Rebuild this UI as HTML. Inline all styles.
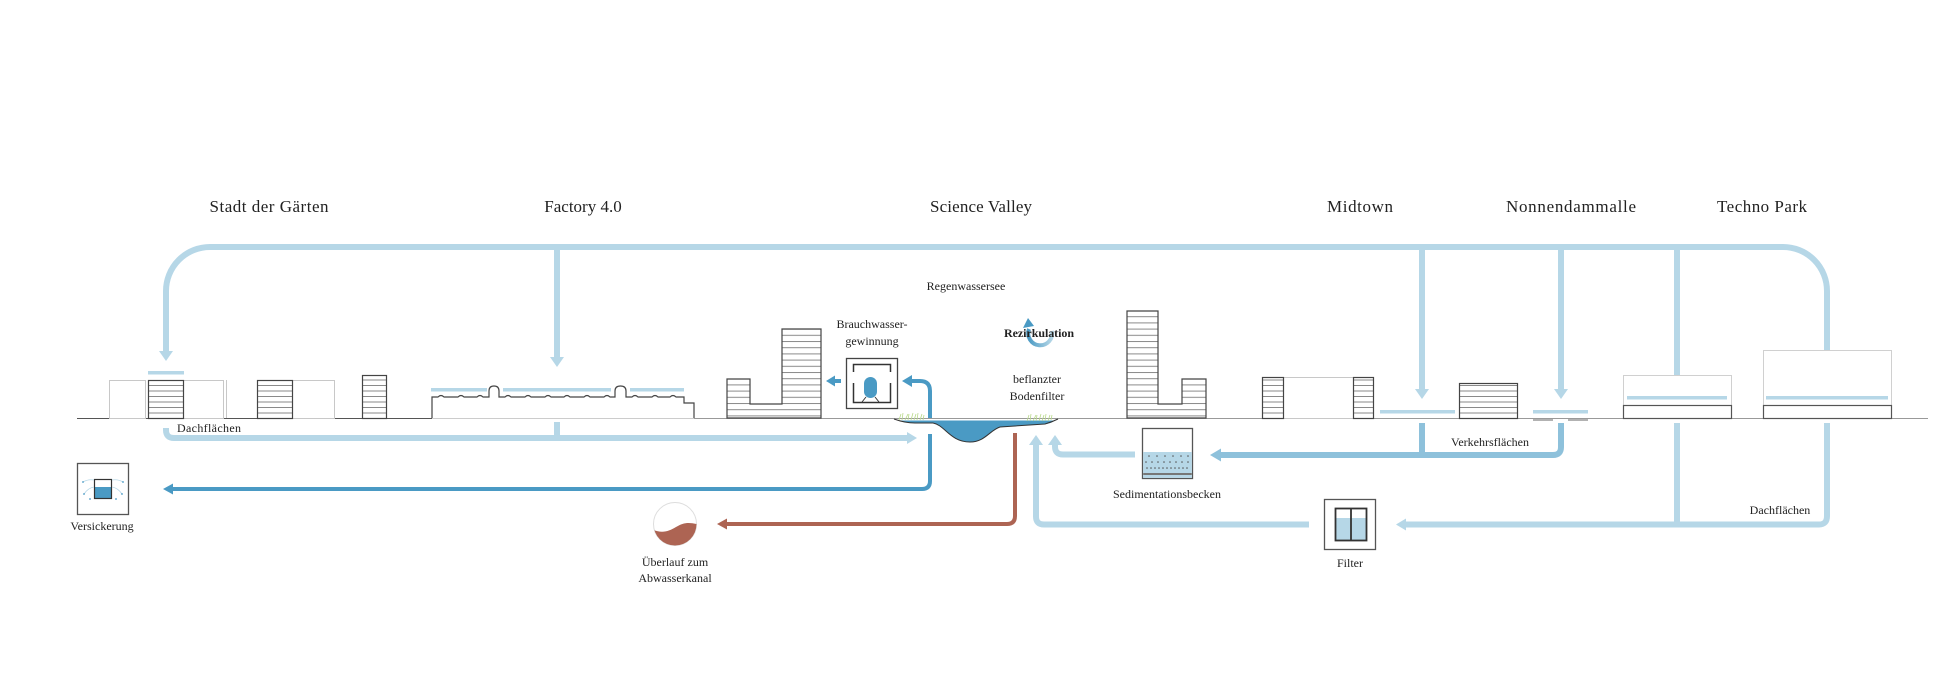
<!DOCTYPE html>
<html><head><meta charset="utf-8"><style>
html,body{margin:0;padding:0;background:#fff;}
svg{display:block;}
text{font-family:"Liberation Serif",serif;fill:#222;}
.t{font-size:17px;}
.l{font-size:12px;}
</style></head><body>
<svg width="1958" height="676" viewBox="0 0 1958 676" xmlns="http://www.w3.org/2000/svg">
<defs>
<pattern id="h55" width="10" height="5.5" patternUnits="userSpaceOnUse"><rect width="10" height="5.5" fill="#fff"/><line x1="0" y1="0.5" x2="10" y2="0.5" stroke="#8a8a8a" stroke-width="1"/></pattern>
<pattern id="h62" width="10" height="6.2" patternUnits="userSpaceOnUse"><rect width="10" height="6.2" fill="#fff"/><line x1="0" y1="0.5" x2="10" y2="0.5" stroke="#8a8a8a" stroke-width="1"/></pattern>
<linearGradient id="rz" x1="0" y1="0" x2="1" y2="0"><stop offset="0" stop-color="#4a9ac4"/><stop offset="1" stop-color="#b6d7e7"/></linearGradient>
<clipPath id="cc"><circle cx="675" cy="524" r="21.5"/></clipPath>
</defs>

<!-- Titles -->
<text class="t" x="269" y="212" text-anchor="middle" textLength="119">Stadt der Gärten</text>
<text class="t" x="583" y="212" text-anchor="middle">Factory 4.0</text>
<text class="t" x="981" y="212" text-anchor="middle" textLength="102">Science Valley</text>
<text class="t" x="1360" y="212" text-anchor="middle" textLength="66">Midtown</text>
<text class="t" x="1571" y="212" text-anchor="middle" textLength="130">Nonnendammalle</text>
<text class="t" x="1762" y="212" text-anchor="middle" textLength="90">Techno Park</text>

<!-- Top loop (light blue) -->
<g fill="none" stroke="#b6d7e7" stroke-width="6">
<path d="M166 352 V291 A44 44 0 0 1 210 247 H1783 A44 44 0 0 1 1827 291 V377"/>
<path d="M557 247 V358"/>
<path d="M1422 247 V390"/>
<path d="M1561 247 V390"/>
<path d="M1677 247 V377"/>
</g>
<g fill="#b6d7e7">
<polygon points="159,351 173,351 166,361"/>
<polygon points="550,357 564,357 557,367"/>
<polygon points="1415,389 1429,389 1422,399"/>
<polygon points="1554,389 1568,389 1561,399"/>
<polygon points="1670,376 1684,376 1677,386"/>
<polygon points="1820,376 1834,376 1827,386"/>
</g>

<!-- Ground line -->
<line x1="77" y1="418.5" x2="1928" y2="418.5" stroke="#999" stroke-width="1"/>
<line x1="77" y1="418.5" x2="432" y2="418.5" stroke="#555" stroke-width="1"/>
<line x1="432" y1="418.5" x2="694" y2="418.5" stroke="#ccc" stroke-width="1"/>

<!-- Stadt der Gärten -->
<g stroke="#c8c8c8" fill="#fff" stroke-width="1">
<rect x="109.5" y="380.5" width="36" height="38"/>
<rect x="183.5" y="380.5" width="40" height="38"/>
<line x1="226.5" y1="380" x2="226.5" y2="418"/>
<rect x="292.5" y="380.5" width="42" height="38"/>
</g>
<g stroke="#444" stroke-width="1.2">
<rect x="148.5" y="380.5" width="35" height="38" fill="url(#h55)"/>
<rect x="257.5" y="380.5" width="35" height="38" fill="url(#h55)"/>
<rect x="362.5" y="375.5" width="24" height="43" fill="url(#h55)"/>
</g>
<rect x="148" y="371" width="36" height="3.5" fill="#b6d7e7"/>

<!-- Factory 4.0 -->
<path d="M432 418 V397 H438 q3 -3 6 0 H458 q3 -3 6 0 H477 q3 -3 6 0 H489 V391 Q489 386 494 386 Q499 386 499 391 V397 H505 q3 -3 6 0 H525 q3 -3 6 0 H545 q3 -3 6 0 H564 q3 -3 6 0 H584 q3 -3 6 0 H604 q3 -3 6 0 H615 V391 Q615 386 620.5 386 Q626 386 626 391 V397 H632 q3 -3 6 0 H652 q3 -3 6 0 H670 q3 -3 6 0 H684 V403 H694 V418" fill="#fff" stroke="#444" stroke-width="1.2"/>
<g fill="#b6d7e7">
<rect x="431" y="388" width="56" height="3.5"/>
<rect x="503" y="388" width="108" height="3.5"/>
<rect x="630" y="388" width="54" height="3.5"/>
</g>

<!-- Science Valley buildings -->
<path d="M727 418 V379 H750 V404 H782 V329 H821 V418 Z" fill="url(#h62)" stroke="#444" stroke-width="1.2"/>
<path d="M1127 418 V311 H1158 V404 H1182 V379 H1206 V418 Z" fill="url(#h62)" stroke="#444" stroke-width="1.2"/>

<!-- Midtown buildings -->
<rect x="1283.5" y="377.5" width="70" height="41" fill="#fff" stroke="#c8c8c8"/>
<g stroke="#444" stroke-width="1.2">
<rect x="1262.5" y="377.5" width="21" height="41" fill="url(#h55)"/>
<rect x="1353.5" y="377.5" width="20" height="41" fill="url(#h55)"/>
<rect x="1459.5" y="383.5" width="58" height="35" fill="url(#h55)"/>
</g>
<g fill="#b6d7e7">
<rect x="1380" y="410" width="75" height="3.5"/>
<rect x="1533" y="410" width="55" height="3.5"/>
</g>
<g stroke="#666" stroke-width="1">
<line x1="1533" y1="420" x2="1553" y2="420"/>
<line x1="1568" y1="420" x2="1588" y2="420"/>
</g>

<!-- Techno Park buildings -->
<g fill="#fff" stroke="#d0d0d0" stroke-width="1">
<rect x="1623.5" y="375.5" width="108" height="30"/>
<rect x="1763.5" y="350.5" width="128" height="55"/>
</g>
<g fill="#fff" stroke="#555" stroke-width="1.2">
<rect x="1623.5" y="405.5" width="108" height="13"/>
<rect x="1763.5" y="405.5" width="128" height="13"/>
</g>
<g fill="#b6d7e7">
<rect x="1627" y="396" width="100" height="3.5"/>
<rect x="1766" y="396" width="122" height="3.5"/>
</g>

<!-- Lake -->
<path d="M900 420.5 L1055 420.5 Q1050 424 1045 424 L1000 427 C990 430 985 442 970 442 C950 442 945 425 933 423 L915 423 Q905 423 900 420.5 Z" fill="#4a9ac4"/>
<path d="M894 419 Q905 423 915 423 L933 423 C945 425 950 442 970 442 C985 442 990 430 1000 427 L1045 424 Q1052 422 1058 419" fill="none" stroke="#333" stroke-width="1"/>
<g stroke="#b8d98a" stroke-width="0.8">
<path d="M899 420 l2 -6 M902 420 l1 -7 M905 420 l3 -6 M908 420 l1 -6 M911 420 l2 -7 M914 420 l2 -6 M917 420 l1 -7 M920 420 l2 -6 M923 420 l1 -5"/>
<path d="M1027 421 l2 -6 M1030 421 l1 -7 M1033 421 l3 -6 M1036 421 l1 -6 M1039 421 l2 -7 M1042 421 l2 -6 M1045 421 l1 -7 M1048 421 l2 -6 M1051 420 l1 -5"/>
</g>

<!-- Labels center -->
<text class="l" x="966" y="290" text-anchor="middle">Regenwassersee</text>
<text class="l" x="872" y="328" text-anchor="middle">Brauchwasser-</text>
<text class="l" x="872" y="345" text-anchor="middle">gewinnung</text>
<text class="l" x="1037" y="383" text-anchor="middle">beflanzter</text>
<text class="l" x="1037" y="400" text-anchor="middle">Bodenfilter</text>

<!-- Rezirkulation icon -->
<path d="M1052 331 A12 12 0 1 1 1029 329" fill="none" stroke="url(#rz)" stroke-width="4" transform="rotate(0)"/>
<path d="M1052 331 A12 12 0 0 1 1029 340" fill="none" stroke="none"/>
<polygon points="1023,328 1034,326 1028,318" fill="#4a9ac4"/>
<text class="l" x="1039" y="337" text-anchor="middle" font-weight="bold" textLength="70">Rezirkulation</text>

<!-- Brauchwasser box -->
<rect x="846.5" y="358.5" width="51" height="50" fill="#fff" stroke="#444" stroke-width="1.3"/>
<path d="M853.5 372 V364.5 H890.5 V372 M853.5 383 V402.5 H890.5 V383" fill="none" stroke="#333" stroke-width="1.5"/>
<rect x="864" y="377" width="13" height="21" rx="6.5" fill="#4a9ac4"/>
<path d="M866 397 L862 402 M875 397 L879 402" stroke="#333" stroke-width="1"/>

<!-- Dark blue flows -->
<g fill="none" stroke="#4a9ac4" stroke-width="4">
<path d="M930 418 V391 Q930 381 920 381 H911"/>
<path d="M833 381 H841"/>
<path d="M930 434 V481 Q930 489 922 489 H172"/>
</g>
<g fill="#4a9ac4">
<polygon points="902,381 912,375 912,387"/>
<polygon points="826,381 835,375.5 835,386.5"/>
<polygon points="163,489 173,483.5 173,494.5"/>
</g>

<!-- Red overflow -->
<path d="M1015 433 V516 Q1015 524 1007 524 H726" fill="none" stroke="#ad6453" stroke-width="4"/>
<polygon points="717,524 727,518.5 727,529.5" fill="#ad6453"/>

<!-- Light blue lower flows -->
<g fill="none" stroke="#b6d7e7" stroke-width="6">
<path d="M166 428 V430 Q166 438 174 438 H908"/>
<path d="M557 422 V438"/>
<path d="M1135 454.5 H1063 Q1055 454.5 1055 446.5 V444"/>
<path d="M1309 524.5 H1044 Q1036 524.5 1036 516.5 V444"/>
<path d="M1827 423 V516 Q1827 524.5 1819 524.5 H1405"/>
<path d="M1677 423 V524.5"/>
</g>
<g fill="#b6d7e7">
<polygon points="917,438 907,432 907,444"/>
<polygon points="1055,435 1048,445 1062,445"/>
<polygon points="1036,435 1029,445 1043,445"/>
<polygon points="1396,524.5 1406,518.5 1406,530.5"/>
</g>

<!-- Verkehrsflaechen (medium blue) -->
<g fill="none" stroke="#8ec1db" stroke-width="6">
<path d="M1561 423 V447 Q1561 455 1553 455 H1219"/>
<path d="M1422 423 V455"/>
</g>
<polygon points="1210,455 1221,448.5 1221,461.5" fill="#8ec1db"/>

<!-- Lower labels -->
<text class="l" x="177" y="432" textLength="64">Dachflächen</text>
<text class="l" x="1490" y="446" text-anchor="middle">Verkehrsflächen</text>
<text class="l" x="1780" y="514" text-anchor="middle">Dachflächen</text>

<!-- Sedimentationsbecken -->
<rect x="1142.5" y="428.5" width="50" height="50" fill="#fff" stroke="#555" stroke-width="1.3"/>
<rect x="1143.2" y="452" width="48.6" height="25.8" fill="#b6d7e7"/>
<g fill="#555">
<circle cx="1149" cy="456" r="0.8"/><circle cx="1157" cy="456" r="0.8"/><circle cx="1165" cy="456" r="0.8"/><circle cx="1173" cy="456" r="0.8"/><circle cx="1181" cy="456" r="0.8"/><circle cx="1188" cy="456" r="0.8"/>
<circle cx="1146" cy="462" r="0.8"/><circle cx="1152" cy="462" r="0.8"/><circle cx="1158" cy="462" r="0.8"/><circle cx="1164" cy="462" r="0.8"/><circle cx="1170" cy="462" r="0.8"/><circle cx="1176" cy="462" r="0.8"/><circle cx="1182" cy="462" r="0.8"/><circle cx="1188" cy="462" r="0.8"/>
<circle cx="1147" cy="468" r="0.8"/><circle cx="1151" cy="468" r="0.8"/><circle cx="1155" cy="468" r="0.8"/><circle cx="1159" cy="468" r="0.8"/><circle cx="1163" cy="468" r="0.8"/><circle cx="1167" cy="468" r="0.8"/><circle cx="1171" cy="468" r="0.8"/><circle cx="1175" cy="468" r="0.8"/><circle cx="1179" cy="468" r="0.8"/><circle cx="1183" cy="468" r="0.8"/><circle cx="1187" cy="468" r="0.8"/>
</g>
<rect x="1143.2" y="473" width="48.6" height="2" fill="#777"/>
<text class="l" x="1167" y="498" text-anchor="middle">Sedimentationsbecken</text>

<!-- Filter -->
<rect x="1324.5" y="499.5" width="51" height="50" fill="#fff" stroke="#555" stroke-width="1.3"/>
<rect x="1336" y="518" width="30" height="22" fill="#b6d7e7"/>
<rect x="1335.5" y="508.5" width="31" height="32" fill="none" stroke="#333" stroke-width="1.8"/>
<line x1="1351" y1="508.5" x2="1351" y2="540.5" stroke="#333" stroke-width="1.8"/>
<text class="l" x="1350" y="567" text-anchor="middle">Filter</text>

<!-- Versickerung -->
<rect x="77.5" y="463.5" width="51" height="51" fill="#fff" stroke="#555" stroke-width="1.3"/>
<rect x="94.5" y="487" width="17" height="11" fill="#4a9ac4"/>
<rect x="94.5" y="479.5" width="17" height="19" fill="none" stroke="#333" stroke-width="1.2"/>
<g fill="none" stroke="#b6d7e7" stroke-width="0.8">
<path d="M83 482 Q88 479 94 480"/><path d="M112 480 Q118 479 123 482"/>
<path d="M84 494 Q88 488 94 487"/><path d="M112 487 Q118 488 122 494"/>
</g>
<g fill="#4a9ac4">
<circle cx="83" cy="482" r="0.9"/><circle cx="123" cy="482" r="0.9"/><circle cx="84" cy="494" r="0.9"/><circle cx="122" cy="494" r="0.9"/><circle cx="90" cy="499" r="0.9"/><circle cx="116" cy="499" r="0.9"/>
</g>
<text class="l" x="102" y="530" text-anchor="middle">Versickerung</text>

<!-- Ueberlauf -->
<circle cx="675" cy="524" r="21.5" fill="#fff" stroke="#ddd" stroke-width="1"/>
<path clip-path="url(#cc)" d="M650 528 C660 534 668 532 676 527 C684 522 690 522 700 525 V550 H650 Z" fill="#ad6453"/>
<text class="l" x="675" y="566" text-anchor="middle">Überlauf zum</text>
<text class="l" x="675" y="582" text-anchor="middle">Abwasserkanal</text>
</svg>
</body></html>
